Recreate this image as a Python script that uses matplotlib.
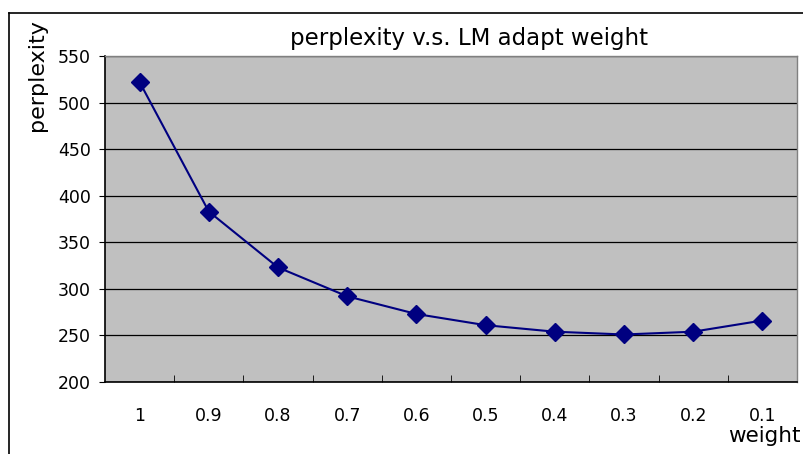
import matplotlib
matplotlib.use('Agg')
import matplotlib.pyplot as plt
from matplotlib.lines import Line2D

weights = ['1', '0.9', '0.8', '0.7', '0.6', '0.5', '0.4', '0.3', '0.2', '0.1']
perplexity = [522, 383, 323, 292, 273, 261, 254, 251, 254, 266]

fig = plt.figure(figsize=(8.04, 4.54), dpi=100)
W, H = 804, 454
ax = fig.add_axes([105 / W, 1 - 382 / H, 692 / W, 326 / H])
ax.set_facecolor('#c0c0c0')

x = list(range(len(weights)))
ax.plot(x, perplexity, color='#000080', lw=1.5, marker='D', ms=9,
        mfc='#000080', mec='#000080', zorder=3)

ax.set_xlim(-0.5, len(weights) - 0.5)
ax.set_ylim(200, 550)
ax.set_yticks(range(200, 551, 50))
ax.yaxis.grid(True, color='black', lw=0.9)
ax.set_axisbelow(True)

ax.set_xticks(x)
ax.set_xticklabels(weights, fontsize=12.5)
ax.tick_params(axis='x', length=0, pad=18)
ax.set_xticks([i + 0.5 for i in range(len(weights))], minor=True)
ax.tick_params(axis='x', which='minor', direction='in', length=5, color='black')
ax.tick_params(axis='y', direction='out', length=4, labelsize=12.5, pad=6)

for s in ['top', 'right']:
    ax.spines[s].set_color('#808080')
    ax.spines[s].set_linewidth(1)
for s in ['left', 'bottom']:
    ax.spines[s].set_color('black')
    ax.spines[s].set_linewidth(1.2)

fig.text(469 / W, 1 - 38 / H, 'perplexity v.s. LM adapt weight', fontsize=16.5,
         ha='center', va='center')
fig.text(37 / W, 1 - 75 / H, 'perplexity', fontsize=16, rotation=90,
         ha='center', va='center')
fig.text(764 / W, 1 - 442 / H, 'weight', fontsize=15.5, ha='center', va='baseline')

# outer chart frame
fig.add_artist(Line2D([9 / W, 9 / W], [0, 1 - 13 / H], color='black', lw=1.2,
                      transform=fig.transFigure))
fig.add_artist(Line2D([9 / W, 1], [1 - 13 / H, 1 - 13 / H], color='black', lw=1.2,
                      transform=fig.transFigure))

fig.savefig('out.png', dpi=100)
